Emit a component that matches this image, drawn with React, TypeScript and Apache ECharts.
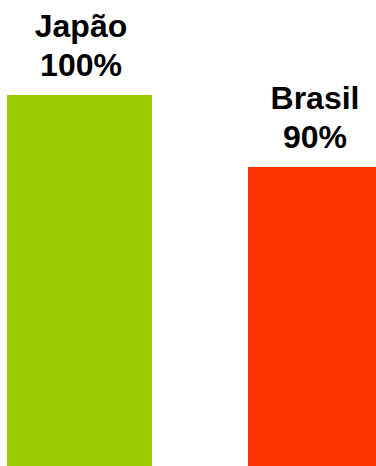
import React, { useEffect, useRef } from "react";
import * as echarts from "echarts";

const categories = ["Japão", "Brasil"];
const values = [100, 90];
const colors = ["#99CC00", "#FF3300"];

export default function App() {
  const ref = useRef<HTMLDivElement>(null);
  useEffect(() => {
    if (!ref.current) return;
    const chart = echarts.init(ref.current, null, { renderer: "svg" });
    chart.setOption({
      animation: false,
      grid: { left: 0, right: 0, top: 95, bottom: 0 },
      xAxis: { type: "category", data: categories, show: false },
      yAxis: { type: "value", min: 48.5, max: 100, show: false },
      series: [
        {
          type: "bar",
          barWidth: 145,
          data: values.map((v, i) => ({
            value: v,
            itemStyle: { color: colors[i] },
            label: { offset: i === 1 ? [-5.5, 0] : [1.5, 0] },
          })),
          label: {
            show: true,
            position: "top",
            distance: 11,
            formatter: (p: any) => `${categories[p.dataIndex]}\n${p.value}%`,
            fontFamily: "Liberation Sans",
            fontWeight: "bold",
            fontSize: 32,
            lineHeight: 39,
            color: "#000",
          },
        },
      ],
    });
    return () => chart.dispose();
  }, []);
  return (
    <div
      style={{
        position: "absolute",
        left: 0,
        top: 0,
        width: 376,
        height: 466,
        overflow: "hidden",
      }}
    >
      <div
        ref={ref}
        style={{ position: "absolute", left: -41, top: 0, width: 482, height: 466 }}
      />
    </div>
  );
}
